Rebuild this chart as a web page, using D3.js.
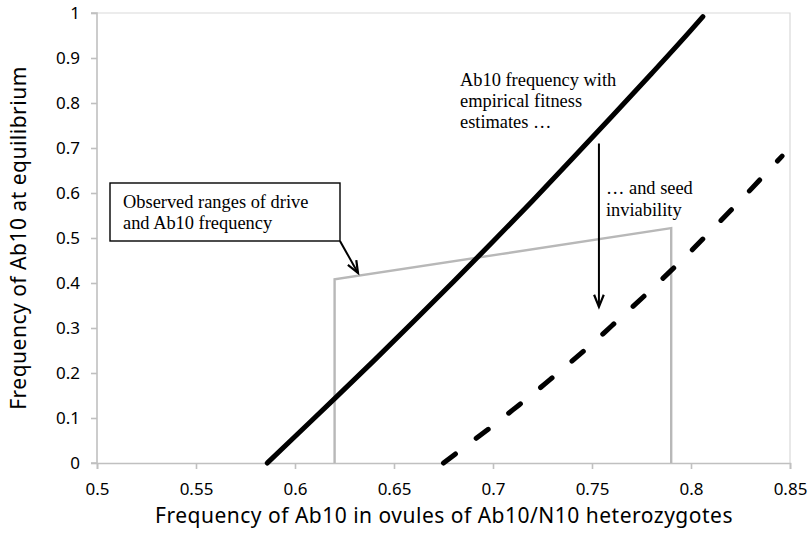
<!DOCTYPE html>
<html>
<head>
<meta charset="utf-8">
<script src="https://cdn.jsdelivr.net/npm/d3@7"></script>
<style>
  html, body { margin: 0; padding: 0; background: #fff; }
  svg { display: block; }
  .tick text { font-family: "Noto Sans", sans-serif; }
</style>
</head>
<body>
<div id="chart"></div>
<script>
// --- data ---------------------------------------------------------------
const xTicks = [0.5, 0.55, 0.6, 0.65, 0.7, 0.75, 0.8, 0.85];
const yTicks = [0, 0.1, 0.2, 0.3, 0.4, 0.5, 0.6, 0.7, 0.8, 0.9, 1];

// Ab10 frequency with empirical fitness estimates (solid)
const empiricalX = [0.586, 0.60, 0.62, 0.64, 0.66, 0.68, 0.70, 0.72, 0.74, 0.76, 0.78, 0.80, 0.806];
const empiricalY = [0, 0.059, 0.143, 0.228, 0.315, 0.403, 0.492, 0.583, 0.676, 0.770, 0.865, 0.962, 0.992];

// ... and seed inviability (dashed)
const inviableX = [0.675, 0.69, 0.70, 0.71, 0.72, 0.73, 0.74, 0.75, 0.76, 0.77, 0.78, 0.79, 0.80, 0.81, 0.82, 0.83, 0.84, 0.846];
const inviableY = [0, 0.050, 0.083, 0.118, 0.153, 0.190, 0.227, 0.265, 0.305, 0.345, 0.386, 0.428, 0.471, 0.516, 0.561, 0.607, 0.654, 0.682];

// observed ranges of drive and Ab10 frequency (grey outline)
const observedX = [0.62, 0.62, 0.79, 0.79];
const observedY = [0, 0.408, 0.522, 0];

const xTitle = 'Frequency of Ab10 in ovules of Ab10/N10 heterozygotes';
const yTitle = 'Frequency of Ab10 at equilibrium';

// --- layout -------------------------------------------------------------
const W = 810, H = 538;
const x = d3.scaleLinear().domain([0.5, 0.85]).range([97, 790]);
const y = d3.scaleLinear().domain([0, 1]).range([463, 13]);
const axisGrey = '#c0c0c0';
const serif = '"Liberation Serif", "Times New Roman", serif';
const sans = '"Noto Sans", sans-serif';

const svg = d3.select('#chart').append('svg')
  .attr('width', W).attr('height', H);

// plot-area border (top / right)
svg.append('path')
  .attr('d', `M${x(0.5)},${y(1)}H${x(0.85)}V${y(0)}`)
  .attr('fill', 'none').attr('stroke', '#d9d9d9').attr('stroke-width', 1.2);

// axes
const xAxis = svg.append('g')
  .attr('transform', `translate(0,${y(0)})`)
  .call(d3.axisBottom(x).tickValues(xTicks).tickSize(6).tickPadding(14)
    .tickFormat(d => String(+d.toFixed(2))));
const yAxis = svg.append('g')
  .attr('transform', `translate(${x(0.5)},0)`)
  .call(d3.axisLeft(y).tickValues(yTicks).tickSize(6).tickPadding(11)
    .tickFormat(d => String(+d.toFixed(1))));

[xAxis, yAxis].forEach(a => {
  a.select('.domain').attr('stroke', axisGrey).attr('stroke-width', 1.6);
  a.selectAll('.tick line').attr('stroke', axisGrey).attr('stroke-width', 1.6);
  a.selectAll('.tick text').attr('fill', '#000').attr('font-size', 17);
});
yAxis.select('.domain').attr('d', `M-6,${y(0)}H0V${y(1)}H-6`);

// axis titles
svg.append('text')
  .attr('x', (x(0.5) + x(0.85)) / 2 + 0.5).attr('y', 523)
  .attr('text-anchor', 'middle')
  .attr('font-family', sans).attr('font-size', 21).attr('letter-spacing', 0.5)
  .text(xTitle);
svg.append('text')
  .attr('transform', `translate(26,${(y(0) + y(1)) / 2}) rotate(-90)`)
  .attr('text-anchor', 'middle')
  .attr('font-family', sans).attr('font-size', 21).attr('letter-spacing', 0.5)
  .text(yTitle);

// --- series -------------------------------------------------------------
const line = d3.line().x(d => x(d[0])).y(d => y(d[1]));
const curve = d3.line().x(d => x(d[0])).y(d => y(d[1])).curve(d3.curveMonotoneX);

svg.append('path')
  .datum(d3.zip(observedX, observedY))
  .attr('d', line)
  .attr('fill', 'none').attr('stroke', '#b8b8b8').attr('stroke-width', 2.4);

svg.append('path')
  .datum(d3.zip(empiricalX, empiricalY))
  .attr('d', curve)
  .attr('fill', 'none').attr('stroke', '#000')
  .attr('stroke-width', 5).attr('stroke-linecap', 'round');

svg.append('path')
  .datum(d3.zip(inviableX, inviableY))
  .attr('d', curve)
  .attr('fill', 'none').attr('stroke', '#000')
  .attr('stroke-width', 5).attr('stroke-linecap', 'round')
  .attr('stroke-dasharray', '15,26');

// --- annotations --------------------------------------------------------
function arrow(x1, y1, x2, y2) {
  const a = Math.atan2(y2 - y1, x2 - x1), L = 13, s = 0.38;
  svg.append('line')
    .attr('x1', x1).attr('y1', y1).attr('x2', x2).attr('y2', y2)
    .attr('stroke', '#000').attr('stroke-width', 2);
  svg.append('path')
    .attr('d', `M${x2 - L * Math.cos(a - s)},${y2 - L * Math.sin(a - s)}L${x2},${y2}L${x2 - L * Math.cos(a + s)},${y2 - L * Math.sin(a + s)}`)
    .attr('fill', 'none').attr('stroke', '#000').attr('stroke-width', 2.2);
}

function label(lines, px, py, dy) {
  const t = svg.append('text')
    .attr('font-family', serif).attr('font-size', 18.4).attr('fill', '#000');
  lines.forEach((s, i) => t.append('tspan').attr('x', px).attr('y', py + i * dy).text(s));
}

// callout box
svg.append('rect')
  .attr('x', 110).attr('y', 183).attr('width', 230).attr('height', 58)
  .attr('fill', '#fff').attr('stroke', '#000').attr('stroke-width', 1.4);
label(['Observed ranges of drive', 'and Ab10 frequency'], 123, 208, 21);
arrow(340, 241, 358, 273);

label(['Ab10 frequency with', 'empirical fitness', 'estimates \u2026'], 460, 86, 21);
arrow(x(0.7535), y(0.71), x(0.7535), y(0.347));
label(['\u2026 and seed', 'inviability'], 606, 194, 22);
</script>
</body>
</html>
